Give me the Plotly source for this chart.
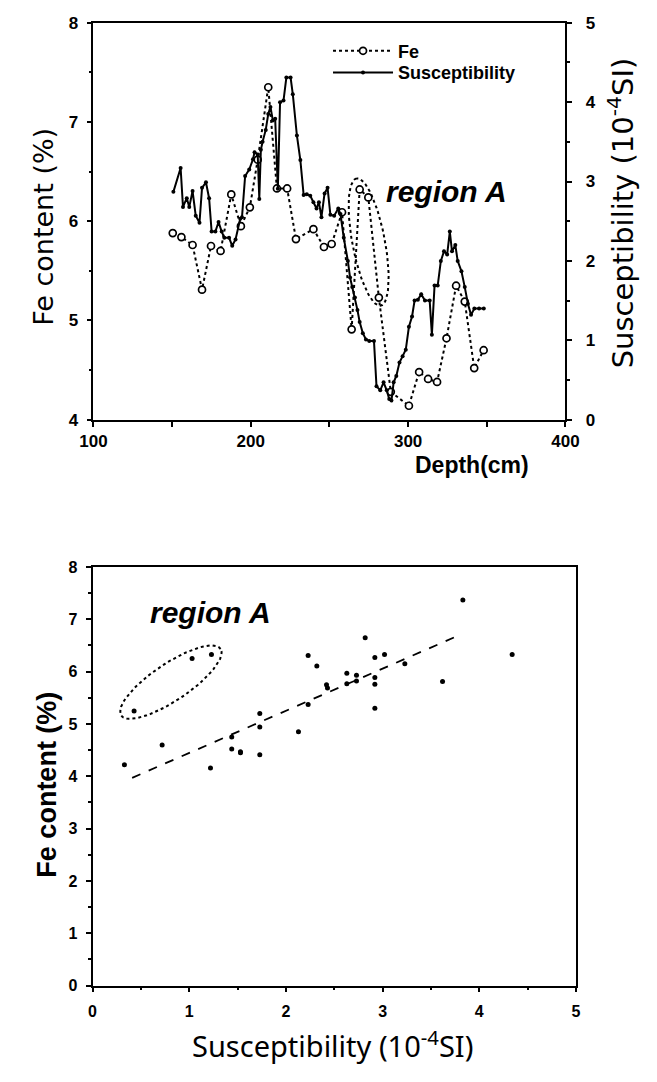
import numpy as np
import plotly.graph_objects as go

# ---------------- data ----------------
fe_depth = [150.4, 155.9, 163.0, 169.0, 174.7, 180.8, 187.6, 193.7, 199.4, 204.4,
            211.1, 216.6, 223.1, 228.7, 239.8, 246.5, 251.4, 258.0, 264.1, 269.2,
            274.7, 281.4, 289.0, 300.5, 307.0, 312.7, 318.4, 324.4, 330.5, 336.0,
            342.0, 348.0]
fe_pct = [5.88, 5.84, 5.76, 5.31, 5.75, 5.70, 6.27, 5.95, 6.14, 6.62,
          7.35, 6.33, 6.33, 5.82, 5.92, 5.74, 5.77, 6.09, 4.91, 6.32,
          6.24, 5.23, 4.28, 4.14, 4.48, 4.41, 4.38, 4.82, 5.35, 5.19,
          4.52, 4.70]

sus_depth = [150.8, 155.4, 156.9, 159.3, 160.9, 163.0, 165.0, 167.4, 169.0, 171.5,
             173.5, 175.1, 177.5, 179.5, 181.5, 183.2, 186.2, 188.2, 190.3, 193.3,
             194.4, 196.4, 199.0, 201.4, 202.4, 204.4, 205.4, 206.4, 207.5, 209.5,
             211.1, 212.5, 214.0, 215.5, 217.2, 218.6, 220.8, 222.6, 225.3, 226.7,
             229.3, 231.5, 233.6, 235.6, 237.8, 239.8, 241.8, 243.3, 244.9, 246.9,
             248.8, 250.6, 253.0, 255.6, 257.0, 259.1, 261.7, 263.1, 264.5, 266.2,
             267.8, 269.2, 271.2, 273.2, 275.3, 278.3, 279.9, 282.3, 284.4, 286.4,
             288.0, 289.4, 290.8, 292.5, 294.5, 296.5, 298.5, 300.5, 302.5, 304.1,
             306.2, 308.3, 310.7, 313.7, 315.1, 316.8, 318.8, 320.8, 322.8, 324.8,
             326.5, 327.9, 330.0, 331.5, 333.9, 336.0, 338.0, 340.0, 342.1, 345.1,
             348.1]
sus_val = [2.87, 3.17, 2.68, 2.79, 2.68, 2.88, 2.57, 2.48, 2.92, 2.99,
           2.79, 2.37, 2.37, 2.49, 2.37, 2.29, 2.29, 2.19, 2.27, 2.53,
           2.55, 3.07, 3.15, 3.28, 3.37, 3.34, 2.78, 3.40, 3.50, 3.65,
           3.85, 3.94, 3.77, 3.79, 2.91, 4.00, 4.02, 4.31, 4.31, 4.10,
           3.58, 3.27, 2.83, 2.84, 2.82, 2.74, 2.66, 2.74, 2.55, 2.85,
           2.92, 2.58, 2.57, 2.66, 2.59, 2.29, 2.00, 1.79, 1.67, 1.54,
           1.38, 1.23, 1.09, 1.01, 0.99, 0.99, 0.42, 0.37, 0.47, 0.37,
           0.26, 0.24, 0.47, 0.55, 0.72, 0.80, 0.88, 1.17, 1.30, 1.50,
           1.51, 1.58, 1.50, 1.50, 1.07, 1.69, 1.69, 2.00, 2.12, 2.08,
           2.37, 2.12, 2.20, 2.00, 1.87, 1.67, 1.46, 1.32, 1.40, 1.40,
           1.40]

sc_sus = [0.33, 0.43, 0.72, 1.03, 1.23, 1.22, 1.44, 1.44, 1.53, 1.53, 1.73,
          1.73, 1.73, 2.13, 2.23, 2.23, 2.32, 2.42, 2.43, 2.63, 2.63, 2.73,
          2.73, 2.82, 2.92, 2.92, 2.92, 2.92, 3.02, 3.23, 3.62, 3.83, 4.34]
sc_fe = [4.22, 5.25, 4.60, 6.25, 6.33, 4.16, 4.75, 4.52, 4.47, 4.45, 5.20,
         4.94, 4.41, 4.85, 6.31, 5.37, 6.11, 5.75, 5.69, 5.97, 5.77, 5.93,
         5.82, 6.65, 6.27, 5.89, 5.76, 5.30, 6.33, 6.15, 5.81, 7.37, 6.33]

trend_slope = 0.806
trend_intercept = 3.64
trend_x = [0.41, 3.82]

x_top_ticks = [100, 150, 200, 250, 300, 350, 400]
x_top_labels = ["100", "", "200", "", "300", "", "400"]

# ---------------- geometry ----------------
W, H = 657, 1082
top_x0, top_x1, top_y0, top_y1 = 83, 576, 14, 418
bot_x0, bot_x1, bot_y0, bot_y1 = 82, 587, 568, 994


def xdom(a, b):
    return [a / W, b / W]


def ydom(t, b):
    return [1 - b / H, 1 - t / H]


def ellipse(cx, cy, a_px, b_px, ang_deg, xs, ys, n=90):
    t = np.linspace(0, 2 * np.pi, n)
    th = np.radians(ang_deg)
    u, v = a_px * np.cos(t), b_px * np.sin(t)
    dx = u * np.cos(th) - v * np.sin(th)
    dy = u * np.sin(th) + v * np.cos(th)
    return cx + dx / xs, cy + dy / ys


top_xs = (top_x1 - top_x0) / 300.0
top_ys = (top_y1 - top_y0) / 4.0
bot_xs = (bot_x1 - bot_x0) / 5.0
bot_ys = (bot_y1 - bot_y0) / 8.0

ex1, ey1 = ellipse(274.9, 5.79, 66, 17, 101, top_xs, top_ys)
ex2, ey2 = ellipse(0.81, 5.80, 62, 19, 33, bot_xs, bot_ys)

tx = np.array(trend_x)
ty = trend_slope * tx + trend_intercept

FONT = "Liberation Sans"
WIDE = "DejaVu Sans"
top_tickfont = dict(family=FONT, size=17, color="black", weight="bold")
bot_tickfont = dict(family=FONT, size=16, color="black", weight="bold")
legfont = dict(family=FONT, size=18, color="black", weight="bold")

fig = go.Figure()

fig.add_trace(go.Scatter(
    x=fe_depth, y=fe_pct, name="Fe", mode="lines+markers",
    line=dict(color="black", width=2, dash="dot"),
    marker=dict(symbol="circle", size=7, color="white",
                line=dict(color="black", width=1.7)),
    xaxis="x", yaxis="y", legend="legend"))
fig.add_trace(go.Scatter(
    x=sus_depth, y=sus_val, name="Susceptibility", mode="lines+markers",
    line=dict(color="black", width=2),
    marker=dict(symbol="circle", size=4, color="black"),
    xaxis="x", yaxis="y2", legend="legend2"))
fig.add_trace(go.Scatter(
    x=ex1, y=ey1, mode="lines", showlegend=False, hoverinfo="skip",
    line=dict(color="black", width=2, dash="dot"), xaxis="x", yaxis="y"))

fig.add_trace(go.Scatter(
    x=sc_sus, y=sc_fe, mode="markers", showlegend=False,
    marker=dict(symbol="circle", size=5, color="black"),
    xaxis="x2", yaxis="y3"))
fig.add_trace(go.Scatter(
    x=tx, y=ty, mode="lines", showlegend=False,
    line=dict(color="black", width=1.8, dash="dash"),
    xaxis="x2", yaxis="y3"))
fig.add_trace(go.Scatter(
    x=ex2, y=ey2, mode="lines", showlegend=False, hoverinfo="skip",
    line=dict(color="black", width=2, dash="dot"), xaxis="x2", yaxis="y3"))

axis_common = dict(showgrid=False, zeroline=False, showline=True,
                   linecolor="black", linewidth=1.8, ticks="outside",
                   tickcolor="black", tickwidth=1.5, ticklen=5)
minor = dict(dtick=0.5, ticklen=3, ticks="outside", tickcolor="black")

fig.update_layout(
    width=W, height=H, margin=dict(l=0, r=0, t=0, b=0),
    paper_bgcolor="white", plot_bgcolor="white",
    showlegend=True,
    legend=dict(x=328 / W, y=1 - 24 / H, xanchor="left", yanchor="top",
                bgcolor="rgba(0,0,0,0)", itemwidth=60, font=legfont),
    legend2=dict(x=328 / W, y=1 - 46 / H, xanchor="left", yanchor="top",
                 bgcolor="rgba(0,0,0,0)", itemwidth=60, font=legfont),
    xaxis=dict(domain=xdom(top_x0, top_x1), range=[100, 400], anchor="y",
               tickvals=x_top_ticks, ticktext=x_top_labels, mirror=True,
               tickfont=top_tickfont, **axis_common),
    yaxis=dict(domain=ydom(top_y0, top_y1), range=[4, 8], anchor="x",
               dtick=1, minor=minor, tickfont=top_tickfont,
               ticklabelstandoff=5, **axis_common),
    yaxis2=dict(range=[0, 5], overlaying="y", side="right", anchor="x",
                dtick=1, minor=minor, tickfont=top_tickfont,
                ticklabelstandoff=10, **axis_common),
    xaxis2=dict(domain=xdom(bot_x0, bot_x1), range=[0, 5], anchor="y3",
                dtick=1, mirror=True, minor=minor, tickfont=bot_tickfont,
                ticklabelstandoff=5, **axis_common),
    yaxis3=dict(domain=ydom(bot_y0, bot_y1), range=[0, 8], anchor="x2",
                dtick=1, mirror=True, minor=minor, tickfont=bot_tickfont,
                ticklabelstandoff=5, **axis_common),
)

ann = [
    dict(text="Fe content (%)", x=30 / W, y=1 - 222 / H, textangle=-90,
         font=dict(family=WIDE, size=27, color="black")),
    dict(text="Susceptibility (10<sup>-4</sup>SI)", x=634 / W, y=1 - 207 / H,
         textangle=-90, font=dict(family=WIDE, size=29, color="black")),
    dict(text="Depth(cm)", x=478 / W, y=1 - 464 / H,
         font=dict(family=FONT, size=23, color="black", weight="bold")),
    dict(text="<i>region A</i>", x=452 / W, y=1 - 186 / H,
         font=dict(family=FONT, size=30, color="black", weight="bold")),
    dict(text="<i>region A</i>", x=205 / W, y=1 - 614 / H,
         font=dict(family=FONT, size=30, color="black", weight="bold")),
    dict(text="Fe content (%)", x=35 / W, y=1 - 790 / H, textangle=-90,
         font=dict(family=FONT, size=27, color="black", weight="bold")),
    dict(text="Susceptibility (10<sup>-4</sup>SI)", x=333 / W, y=1 - 1054 / H,
         font=dict(family="Noto Sans", size=29, color="black")),
]
for a in ann:
    a.update(xref="paper", yref="paper", showarrow=False,
             xanchor="center", yanchor="middle")
fig.update_layout(annotations=ann)

fig.write_html("out.html")
